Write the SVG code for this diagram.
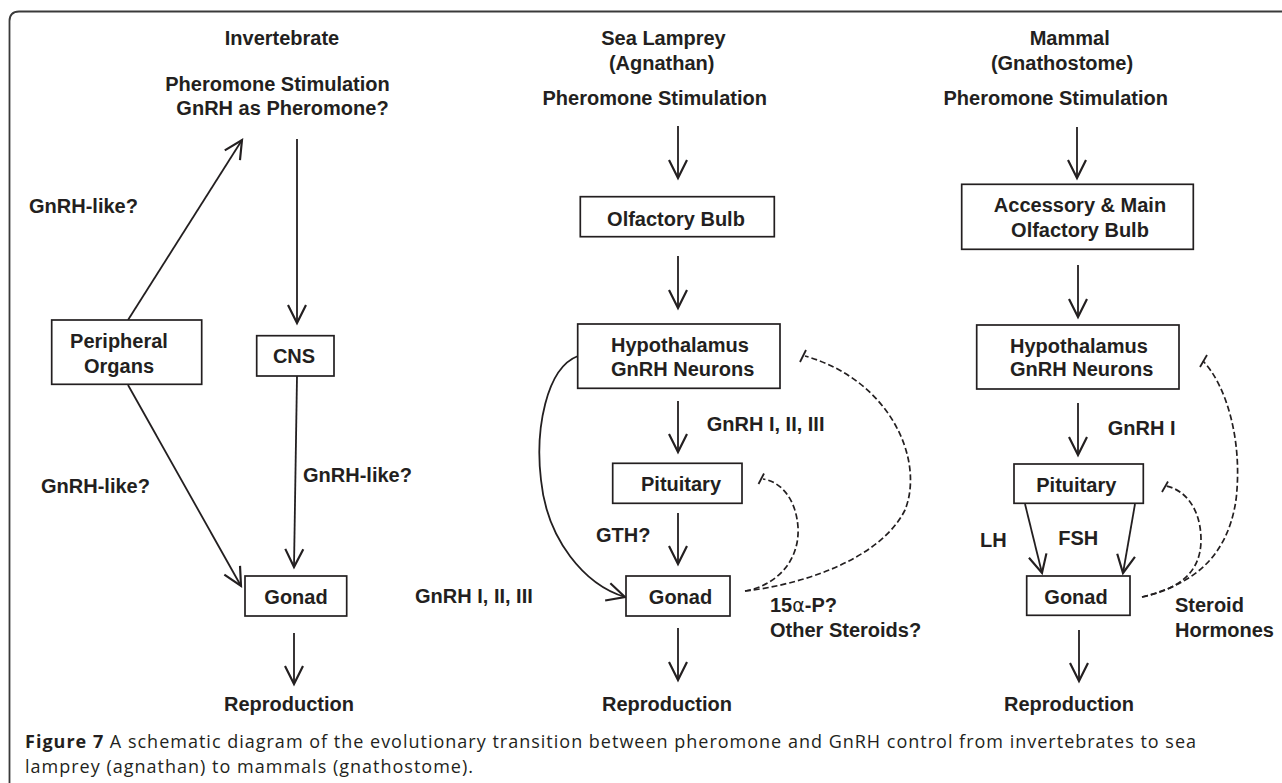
<svg xmlns="http://www.w3.org/2000/svg" width="1282" height="783" viewBox="0 0 1282 783">
<style>
text{font-family:"Liberation Sans",Arial,Helvetica,sans-serif;font-weight:bold;font-size:20px;fill:#231f20}
.c{text-anchor:middle}
.box{fill:#fff;stroke:#231f20;stroke-width:1.7}
.ln{fill:none;stroke:#231f20;stroke-width:1.8;marker-end:url(#ah)}
.ds{fill:none;stroke:#231f20;stroke-width:1.7;stroke-dasharray:6,3}
.tk{fill:none;stroke:#231f20;stroke-width:1.8}
.cap{font-family:"Open Sans","Noto Sans",sans-serif;font-weight:normal;font-size:18px;fill:#231f20}
</style>
<defs>
<marker id="ah" markerUnits="userSpaceOnUse" orient="auto" refX="0" refY="0" markerWidth="30" markerHeight="30" viewBox="-20 -10 25 20" overflow="visible">
<path d="M-15,-7.5 L0,0 L-15,7.5" fill="none" stroke="#231f20" stroke-width="1.8"/>
</marker>
</defs>
<rect width="1282" height="783" fill="#fff"/>
<path d="M9.5,783 L9.5,21 Q9.5,11.5 19,11.5 L1282,11.5" fill="none" stroke="#3a3a3a" stroke-width="1.8"/>

<g id="connectors">
<line class="ln" x1="128" y1="320" x2="242" y2="140"/>
<line class="ln" x1="297" y1="139" x2="297" y2="323"/>
<line class="ln" x1="297" y1="376" x2="294" y2="567"/>
<line class="ln" x1="128" y1="385" x2="241" y2="586"/>
<line class="ln" x1="294" y1="633" x2="294" y2="684"/>

<line class="ln" x1="678" y1="126" x2="678" y2="178"/>
<line class="ln" x1="678" y1="256" x2="678" y2="308"/>
<line class="ln" x1="678" y1="401" x2="678" y2="452"/>
<line class="ln" x1="678" y1="513" x2="678" y2="564"/>
<line class="ln" x1="678" y1="628" x2="678" y2="680"/>
<path class="ln" d="M578,356 C546,368 535,430 541,480 C547,540 585,585 625,597"/>
<path class="ds" d="M745,591 C775,586 800,562 798,527 C796,500 782,482 763,479"/>
<line class="tk" x1="758.5" y1="484" x2="764" y2="473.5"/>
<path class="ds" d="M745,591 C800,585 880,560 905,510 C925,460 890,380 805,356"/>
<line class="tk" x1="800" y1="362" x2="806" y2="350"/>

<line class="ln" x1="1077" y1="127" x2="1077" y2="178"/>
<line class="ln" x1="1078" y1="265" x2="1078" y2="317"/>
<line class="ln" x1="1078" y1="403" x2="1078" y2="455"/>
<line class="ln" x1="1025" y1="504" x2="1042" y2="573"/>
<line class="ln" x1="1135" y1="504" x2="1123" y2="573"/>
<line class="ln" x1="1079" y1="630" x2="1079" y2="681"/>
<path class="ds" d="M1142,597 C1175,590 1201,575 1201,540 C1201,510 1186,490 1166,486"/>
<line class="tk" x1="1162" y1="492" x2="1168" y2="481.5"/>
<path class="ds" d="M1142,597 C1190,585 1227,560 1236,500 C1243,440 1226,385 1203,361"/>
<line class="tk" x1="1200" y1="367" x2="1207" y2="355"/>
</g>

<g id="inv-header"><text class="c" x="282" y="45">Invertebrate</text></g>
<g id="inv-stim">
<text class="c" x="277.5" y="91">Pheromone Stimulation</text>
<text class="c" x="282.5" y="115">GnRH as Pheromone?</text>
</g>
<g id="inv-peripheral">
<rect class="box" x="51.7" y="320" width="150" height="64.3"/>
<text class="c" x="119" y="348">Peripheral</text>
<text class="c" x="119" y="372.7">Organs</text>
</g>
<g id="inv-cns">
<rect class="box" x="256.7" y="335.7" width="77.3" height="40.3"/>
<text class="c" x="294" y="363">CNS</text>
</g>
<g id="inv-gonad">
<rect class="box" x="245" y="576" width="101.7" height="40"/>
<text class="c" x="296" y="604">Gonad</text>
</g>
<g id="inv-repro"><text class="c" x="289" y="711">Reproduction</text></g>
<g id="inv-labels">
<text x="29" y="213">GnRH-like?</text>
<text x="41" y="493">GnRH-like?</text>
<text x="303" y="482">GnRH-like?</text>
</g>

<g id="lam-header">
<text class="c" x="663.5" y="45">Sea Lamprey</text>
<text class="c" x="661.7" y="70">(Agnathan)</text>
</g>
<g id="lam-stim"><text class="c" x="654.7" y="104.5">Pheromone Stimulation</text></g>
<g id="lam-olf">
<rect class="box" x="580.3" y="196.7" width="194" height="40"/>
<text class="c" x="676" y="225.7">Olfactory Bulb</text>
</g>
<g id="lam-hypo">
<rect class="box" x="577.7" y="324" width="202.3" height="64.3"/>
<text x="611" y="351.7">Hypothalamus</text>
<text x="611" y="376">GnRH Neurons</text>
</g>
<g id="lam-pit">
<rect class="box" x="612.7" y="463.3" width="129.3" height="40"/>
<text class="c" x="681" y="491">Pituitary</text>
</g>
<g id="lam-gonad">
<rect class="box" x="626" y="576" width="104" height="40"/>
<text class="c" x="680.5" y="604">Gonad</text>
</g>
<g id="lam-repro"><text class="c" x="667" y="711">Reproduction</text></g>
<g id="lam-labels">
<text x="706.7" y="430.7">GnRH I, II, III</text>
<text x="596" y="541.7">GTH?</text>
<text x="415" y="603.3">GnRH I, II, III</text>
<text x="770" y="612.3">15<tspan font-weight="normal" font-family="'DejaVu Sans',sans-serif" font-size="19">α</tspan>-P?</text>
<text x="770" y="637.3">Other Steroids?</text>
</g>

<g id="mam-header">
<text class="c" x="1069.7" y="45">Mammal</text>
<text class="c" x="1062" y="69.5">(Gnathostome)</text>
</g>
<g id="mam-stim"><text class="c" x="1055.7" y="105">Pheromone Stimulation</text></g>
<g id="mam-olf">
<rect class="box" x="961.7" y="184.3" width="231.6" height="65"/>
<text class="c" x="1080" y="212.3">Accessory &amp; Main</text>
<text class="c" x="1080" y="236.7">Olfactory Bulb</text>
</g>
<g id="mam-hypo">
<rect class="box" x="976.7" y="325" width="202.3" height="64"/>
<text x="1010" y="352.7">Hypothalamus</text>
<text x="1010" y="376">GnRH Neurons</text>
</g>
<g id="mam-pit">
<rect class="box" x="1014" y="464" width="129.3" height="39.3"/>
<text class="c" x="1076.3" y="492.3">Pituitary</text>
</g>
<g id="mam-gonad">
<rect class="box" x="1026.7" y="576" width="103.3" height="39.3"/>
<text class="c" x="1076" y="604">Gonad</text>
</g>
<g id="mam-repro"><text class="c" x="1069" y="711">Reproduction</text></g>
<g id="mam-labels">
<text x="1107.7" y="435">GnRH I</text>
<text x="980" y="546.7">LH</text>
<text x="1058.3" y="545">FSH</text>
<text x="1175" y="612.3">Steroid</text>
<text x="1175" y="637.3">Hormones</text>
</g>

<g id="caption">
<text class="cap" x="25" y="747.5" textLength="1171" lengthAdjust="spacing"><tspan font-weight="bold">Figure 7</tspan> A schematic diagram of the evolutionary transition between pheromone and GnRH control from invertebrates to sea</text>
<text class="cap" x="25" y="773" textLength="448" lengthAdjust="spacing">lamprey (agnathan) to mammals (gnathostome).</text>
</g>
</svg>
